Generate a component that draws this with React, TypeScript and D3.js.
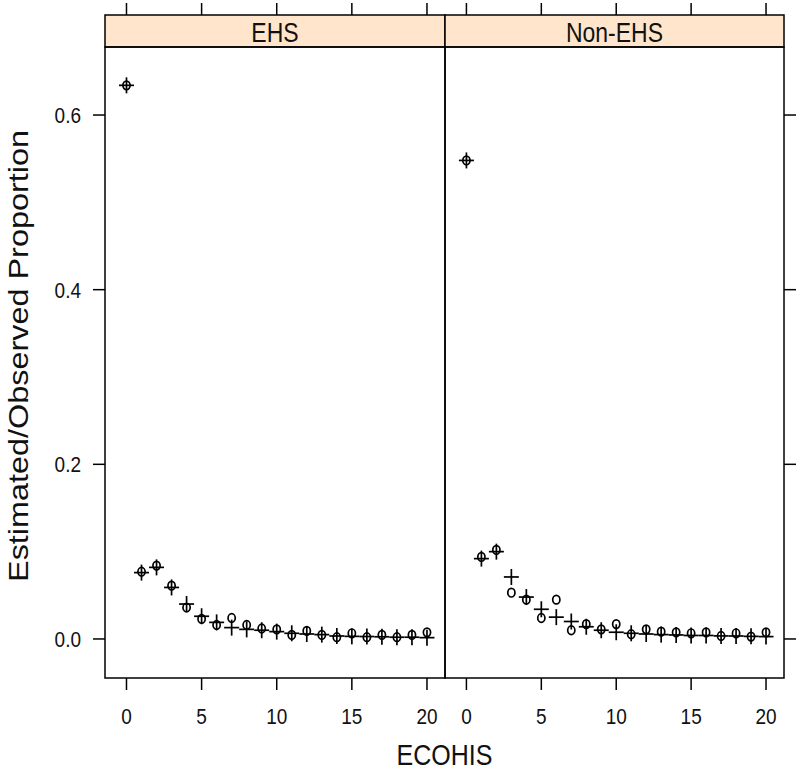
import React from "react";
import * as d3 from "d3";

const panels = ["EHS", "Non-EHS"];
const ecohis = [0,1,2,3,4,5,6,7,8,9,10,11,12,13,14,15,16,17,18,19,20];
const ehsEstimated = [0.634,0.076,0.082,0.059,0.040,0.026,0.019,0.013,0.011,0.010,0.0084,0.0065,0.0057,0.005,0.0034,0.003,0.0028,0.0025,0.002,0.002,0.0015];
const ehsObserved = [0.634,0.077,0.084,0.061,0.036,0.023,0.016,0.024,0.016,0.012,0.011,0.0046,0.0092,0.0046,0.002,0.0065,0.002,0.0046,0.002,0.0046,0.0076];
const nonEstimated = [0.548,0.092,0.100,0.071,0.048,0.034,0.025,0.020,0.014,0.010,0.0077,0.0065,0.0057,0.005,0.0046,0.004,0.004,0.0035,0.0034,0.003,0.0027];
const nonObserved = [0.548,0.094,0.102,0.053,0.045,0.024,0.045,0.010,0.017,0.011,0.017,0.0054,0.011,0.0084,0.0076,0.0065,0.0076,0.0034,0.0065,0.0027,0.0076];
const xTicks = [0,5,10,15,20];
const yTicks = [0,0.2,0.4,0.6];
const yTickLabels = ["0.0","0.2","0.4","0.6"];
const xTitle = "ECOHIS";
const yTitle = "Estimated/Observed Proportion";

const FONT = "'Liberation Sans', Arial, sans-serif";
const SY = 1.2;

export default function App() {
  const top = 15, stripBottom = 47, bottom = 678;
  const edges = [105, 445, 784];
  const y = d3.scaleLinear().domain([-0.0447, 0.6779]).range([bottom, stripBottom]);
  const series = [
    { est: ehsEstimated, obs: ehsObserved },
    { est: nonEstimated, obs: nonObserved },
  ];
  const ink = "#000";
  return (
    <svg width={800} height={771} style={{ position: "absolute", left: 0, top: 0, background: "#fff" }}>
      <rect x={0} y={0} width={800} height={771} fill="#fff" />
      {panels.map((name, i) => {
        const x0 = edges[i], x1 = edges[i + 1];
        const x = d3.scaleLinear().domain([-1.43, 21.2]).range([x0, x1]);
        const s = series[i];
        return (
          <g key={name}>
            <rect x={x0} y={top} width={x1 - x0} height={stripBottom - top} fill="#ffe5cc" stroke={ink} strokeWidth={1.5} />
            <text transform={`translate(${(x0 + x1) / 2},${(top + stripBottom) / 2 + 1}) scale(1,${SY})`} textAnchor="middle" dominantBaseline="central" fontFamily={FONT} fontSize={23} fill="#111">{name}</text>
            <rect x={x0} y={stripBottom} width={x1 - x0} height={bottom - stripBottom} fill="none" stroke={ink} strokeWidth={1.5} />
            {xTicks.map((t) => (
              <g key={t}>
                <line x1={x(t)} x2={x(t)} y1={top} y2={top - 12} stroke={ink} strokeWidth={1.5} />
                <line x1={x(t)} x2={x(t)} y1={bottom} y2={bottom + 12} stroke={ink} strokeWidth={1.5} />
                <text transform={`translate(${x(t)},${716}) scale(1,${SY})`} textAnchor="middle" dominantBaseline="central" fontFamily={FONT} fontSize={19} fill="#111">{t}</text>
              </g>
            ))}
            {ecohis.map((e, k) => (
              <g key={k} stroke={ink} strokeWidth={1.7} fill="none">
                <ellipse cx={x(e)} cy={y(s.obs[k])} rx={3.6} ry={4.3} />
                <line x1={x(e) - 7.5} x2={x(e) + 7.5} y1={y(s.est[k])} y2={y(s.est[k])} />
                <line x1={x(e)} x2={x(e)} y1={y(s.est[k]) - 8} y2={y(s.est[k]) + 8} />
              </g>
            ))}
          </g>
        );
      })}
      {yTicks.map((t, k) => (
        <g key={t}>
          <line x1={edges[0]} x2={edges[0] - 12} y1={y(t)} y2={y(t)} stroke={ink} strokeWidth={1.5} />
          <line x1={edges[2]} x2={edges[2] + 12} y1={y(t)} y2={y(t)} stroke={ink} strokeWidth={1.5} />
          <text transform={`translate(${81},${y(t)}) scale(1,${SY})`} textAnchor="end" dominantBaseline="central" fontFamily={FONT} fontSize={19} fill="#111">{yTickLabels[k]}</text>
        </g>
      ))}
      <text transform={`translate(${(edges[0] + edges[2]) / 2},${755}) scale(1,${SY})`} textAnchor="middle" dominantBaseline="central" fontFamily={FONT} fontSize={25} fill="#111">{xTitle}</text>
      <text transform={`translate(${18},${356}) rotate(-90) scale(${SY},1)`} textAnchor="middle" dominantBaseline="central" fontFamily={FONT} fontSize={27} fill="#111">{yTitle}</text>
    </svg>
  );
}
